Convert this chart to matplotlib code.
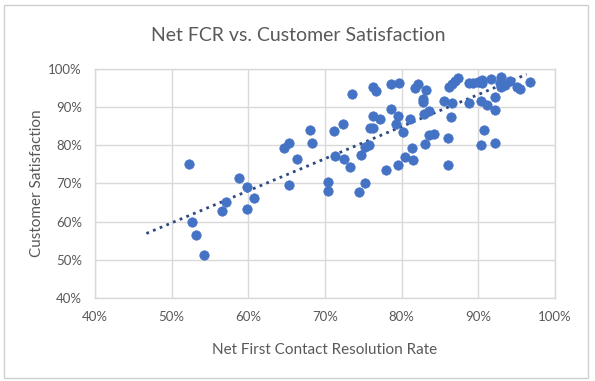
import numpy as np
import matplotlib
matplotlib.use("Agg")
import matplotlib.pyplot as plt
from matplotlib.patches import Rectangle
from matplotlib.ticker import FuncFormatter

# ── data ──────────────────────────────────────────────────────────────────────
net_fcr = [
    52.2, 52.6, 53.2, 54.2, 56.5, 57.1, 58.8, 59.8, 59.8, 60.8,
    64.6, 65.3, 65.3, 66.3, 68.0, 68.3, 70.4, 70.4, 71.2, 71.3,
    72.4, 72.5, 73.3, 73.5, 74.4, 74.7, 75.2, 75.2, 75.7, 75.9,
    76.2, 76.3, 76.6, 76.3, 77.2, 78.0, 78.6, 78.6, 79.5, 79.3,
    79.5, 79.7, 80.2, 80.4, 81.1, 81.4, 81.5, 81.7, 82.1, 82.8,
    82.8, 83.2, 82.9, 83.5, 83.0, 83.6, 84.2, 85.5, 86.6, 86.4,
    86.0, 86.0, 86.2, 86.6, 87.0, 87.4, 88.8, 89.3, 90.0, 90.5,
    90.5, 91.6, 88.8, 90.4, 91.1, 92.2, 92.2, 90.8, 90.4, 92.2,
    93.0, 92.8, 93.0, 93.5, 94.1, 95.1, 95.4, 96.7,
]
csat = [
    75.0, 60.0, 56.4, 51.2, 62.7, 65.1, 71.5, 69.0, 63.2, 66.2,
    79.3, 80.7, 69.5, 76.3, 84.0, 80.6, 70.3, 68.1, 83.8, 77.1,
    85.6, 76.5, 74.3, 93.5, 67.7, 77.5, 70.2, 79.6, 80.0, 84.4,
    84.5, 95.2, 94.3, 87.8, 86.9, 73.6, 89.5, 96.0, 87.8, 85.6,
    74.8, 96.4, 83.4, 77.0, 86.9, 79.4, 76.2, 95.1, 96.0, 92.1,
    91.4, 94.4, 88.3, 89.0, 80.4, 82.6, 83.0, 91.6, 91.0, 87.5,
    81.9, 74.8, 95.4, 96.0, 96.8, 97.7, 96.3, 96.3, 96.7, 97.1,
    96.3, 97.4, 91.0, 91.6, 90.6, 92.6, 89.2, 84.1, 80.2, 80.5,
    97.8, 96.3, 95.4, 95.8, 96.9, 95.4, 94.8, 96.5,
]
# linear trendline as drawn in the reference (two end points)
trend_x = [46.7, 96.3]
trend_y = [56.9, 98.6]

TITLE  = "Net FCR vs. Customer Satisfaction"
XLABEL = "Net First Contact Resolution Rate"
YLABEL = "Customer Satisfaction"

# ── style ─────────────────────────────────────────────────────────────────────
plt.rcParams["font.family"] = ["Lato", "DejaVu Sans"]
TEXT_GRAY = "#595959"
GRID_GRAY = "#D9D9D9"
BLUE      = "#4472C4"
TREND     = "#2F4A80"

fig = plt.figure(figsize=(5.95, 3.81), dpi=100)
fig.patches.append(Rectangle((0.006, 0.009), 0.983, 0.978, transform=fig.transFigure,
                             fill=False, edgecolor="#D0D0D0", linewidth=1.0))

ax = fig.add_axes([0.1597, 0.218, 0.7731, 0.601])

x = np.array(net_fcr) / 100
y = np.array(csat) / 100
ax.scatter(x, y, s=46, color=BLUE, edgecolors=BLUE, linewidths=0.5, zorder=3)

ax.plot(np.array(trend_x) / 100, np.array(trend_y) / 100,
        linestyle=(0, (1, 1.6)), color=TREND, linewidth=2.0, zorder=2)

ax.set_xlim(0.4, 1.0)
ax.set_ylim(0.4, 1.0)
ax.set_xticks(np.arange(0.4, 1.001, 0.1))
ax.set_yticks(np.arange(0.4, 1.001, 0.1))
pct = FuncFormatter(lambda v, _: f"{v:.0%}")
ax.xaxis.set_major_formatter(pct)
ax.yaxis.set_major_formatter(pct)
ax.tick_params(length=0, labelsize=9.5, colors=TEXT_GRAY, pad=9.5)
ax.grid(True, color=GRID_GRAY, linewidth=1.0, zorder=0)
ax.set_axisbelow(True)
for s in ax.spines.values():
    s.set_color(GRID_GRAY)
    s.set_linewidth(1.0)

ax.set_xlabel(XLABEL, fontsize=11, color=TEXT_GRAY, labelpad=14)
ax.set_ylabel(YLABEL, fontsize=11, color=TEXT_GRAY, labelpad=3)
fig.text(0.502, 0.908, TITLE, ha="center", va="center", fontsize=14, color=TEXT_GRAY)

fig.savefig("out.png", dpi=100)
